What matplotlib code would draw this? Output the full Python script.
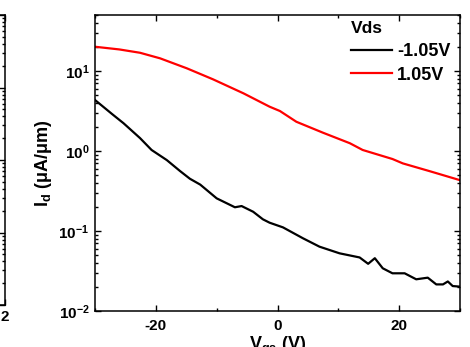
import numpy as np
import matplotlib
matplotlib.use("Agg")
import matplotlib.pyplot as plt
from matplotlib.ticker import FixedLocator, FuncFormatter, LogLocator, NullFormatter

plt.rcParams['font.family'] = ['Liberation Sans', 'DejaVu Sans']
plt.rcParams['font.weight'] = 'bold'
plt.rcParams['axes.unicode_minus'] = False
plt.rcParams['mathtext.fontset'] = 'custom'
plt.rcParams['mathtext.rm'] = 'Liberation Sans:bold'
plt.rcParams['mathtext.bf'] = 'Liberation Sans:bold'
plt.rcParams['mathtext.it'] = 'Liberation Sans:bold'
plt.rcParams['mathtext.default'] = 'rm'

# Data
vg_red = [-30, -26, -22.6, -19.3, -14.9, -10.6, -5.6, -1.3, 0.4, 3.1, 7.5, 11.9, 14.0, 18.9, 20.6, 25, 29.9]
id_red = [20.1, 18.6, 16.9, 14.4, 10.8, 7.87, 5.26, 3.58, 3.16, 2.32, 1.69, 1.25, 1.03, 0.794, 0.70, 0.56, 0.434]

vg_blk = [-30, -27.2, -25.3, -22.6, -20.7, -18.2, -16.0, -14.4, -12.7, -10.0, -7.0, -5.9, -4.0,
          -2.4, -1.3, 0.9, 4.2, 6.9, 10.2, 13.5, 14.9, 16.0, 17.3, 18.9, 20.9, 22.8, 24.7,
          26.1, 27.2, 28.0, 28.8, 29.9]
id_blk = [4.34, 2.9, 2.22, 1.45, 1.03, 0.77, 0.56, 0.45, 0.38, 0.256, 0.198, 0.205, 0.174,
          0.14, 0.127, 0.111, 0.081, 0.0637, 0.0526, 0.0467, 0.0389, 0.0457, 0.0342, 0.0296,
          0.0296, 0.0249, 0.0261, 0.0215, 0.0215, 0.0234, 0.0205, 0.0202]

legend_title = "Vds"
labels = ["-1.05V", "1.05V"]
xticks_major = [-20, 0, 20]
xticks_minor = [-30, -10, 10, 30]

W, H = 470, 347
fig = plt.figure(figsize=(W / 100, H / 100), dpi=100)

# partial neighbouring panel on the left edge
ax0 = fig.add_axes([-0.3, (H - 305) / H, 0.3 + 5 / W, 290 / H])
ax0.set_yscale('log')
ax0.set_ylim(1e-3, 1e1)
ax0.set_xlim(-10, 2)
ax0.set_xticks([2])
ax0.set_xticklabels(['2'])
ax0.tick_params(axis='both', which='both', direction='in', right=True, top=True,
                labelleft=False, labelsize=11, width=1.0)
ax0.tick_params(which='major', length=4)
ax0.tick_params(which='minor', length=2)
for s in ax0.spines.values():
    s.set_linewidth(1.1)

# main panel
ax = fig.add_axes([95 / W, (H - 311) / H, 365 / W, 296 / H])
ax.plot(vg_blk, id_blk, color='black', lw=1.6, label=labels[0])
ax.plot(vg_red, id_red, color='red', lw=1.6, label=labels[1])
ax.set_yscale('log')
ax.set_xlim(-30, 30)
ax.set_ylim(1e-2, 10 ** 1.7)
ax.xaxis.set_major_locator(FixedLocator(xticks_major))
ax.xaxis.set_minor_locator(FixedLocator(xticks_minor))
ax.yaxis.set_major_locator(LogLocator(base=10, numticks=10))
ax.yaxis.set_minor_locator(LogLocator(base=10, subs=np.arange(2, 10), numticks=10))
ax.yaxis.set_minor_formatter(NullFormatter())
ax.yaxis.set_major_formatter(FuncFormatter(lambda v, p: '10$^{%d}$' % int(round(np.log10(v)))))
ax.tick_params(axis='both', which='both', direction='in', top=True, right=True,
               labelsize=11, width=1.0)
ax.tick_params(which='major', length=4, pad=4)
ax.tick_params(axis='x', which='major', pad=6)
ax.tick_params(which='minor', length=2)
for lab in ax.get_xticklabels() + ax.get_yticklabels():
    lab.set_fontweight('bold')
for s in ax.spines.values():
    s.set_linewidth(1.1)

ax.set_ylabel('I$_{d}$ (μA/μm)', fontsize=13, fontweight='bold', labelpad=3)
ax.set_xlabel('V$_{gs}$ (V)', fontsize=13, fontweight='bold', labelpad=1)

leg = ax.legend(title=legend_title, loc='upper left', bbox_to_anchor=(351 / W, (H - 21) / H),
                bbox_transform=fig.transFigure, frameon=False, fontsize=13,
                title_fontproperties={'weight': 'bold', 'size': 12.5}, alignment='left',
                handlelength=2.25, handletextpad=0.3, borderaxespad=0, labelspacing=0.38,
                borderpad=0)
for t in leg.get_texts():
    t.set_fontweight('bold')

fig.savefig('out.png', dpi=100)
